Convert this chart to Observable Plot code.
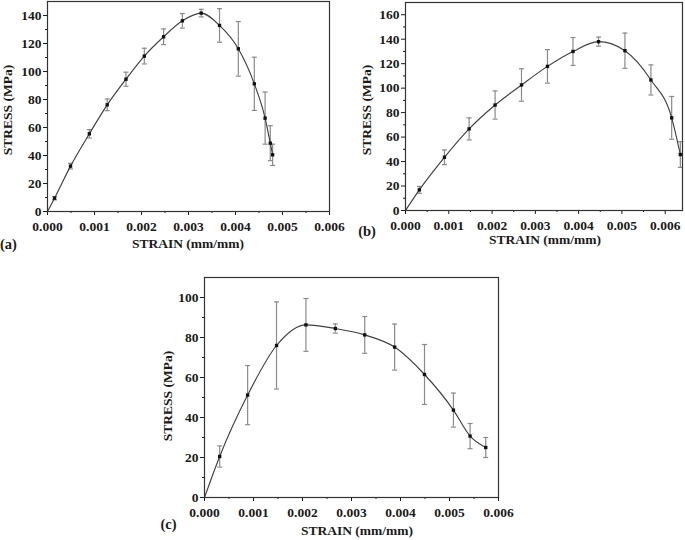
<!DOCTYPE html>
<html><head><meta charset="utf-8">
<script src="https://cdn.jsdelivr.net/npm/d3@7"></script>
<script src="https://cdn.jsdelivr.net/npm/@observablehq/plot@0.6"></script>
<style>
html,body{margin:0;padding:0;background:#fff;}
#wrap{position:relative;width:685px;height:540px;overflow:hidden;font-family:"Times New Roman","Liberation Serif",serif;font-weight:700;color:#1a1a1a;background:#fff;}
.p{position:absolute;}
.t{position:absolute;font-size:13.5px;white-space:nowrap;line-height:1;font-weight:700;}
.yt{transform:translate(-50%,-50%) rotate(-90deg);}
.xt{transform:translate(-50%,-50%);}
.lab{position:absolute;font-size:14.5px;line-height:1;white-space:nowrap;font-weight:700;transform:translate(-50%,-50%);}
svg text{font-weight:700;}
</style></head><body><div id="wrap"></div>
<script>
// Panel (a)
const aStrain = [0.00015, 0.00049, 0.00089, 0.00127, 0.00167, 0.00206, 0.00247, 0.00287, 0.00327, 0.00366, 0.00406, 0.00440, 0.00463, 0.00474, 0.00479];
const aStress = [9.5, 32.4, 55.5, 76.2, 94.5, 111.0, 124.8, 136.2, 141.7, 132.9, 116.2, 91.2, 66.7, 48.8, 40.5];
const aErr    = [1.2, 2.0, 3.0, 4.2, 5.0, 5.6, 5.6, 5.2, 2.7, 12.0, 19.5, 19.0, 18.6, 12.5, 7.6];
// Panel (b)
const bStrain = [0.00032, 0.00090, 0.00147, 0.00207, 0.00268, 0.00328, 0.00387, 0.00446, 0.00507, 0.00567, 0.00615, 0.00635];
const bStress = [16.9, 43.5, 66.7, 86.2, 102.6, 117.8, 130.0, 138.0, 130.6, 106.7, 75.7, 45.7];
const bErr    = [2.8, 6.0, 9.0, 11.5, 13.3, 13.7, 11.4, 3.7, 14.4, 12.3, 17.5, 10.5];
// Panel (c)
const cStrain = [0.00031, 0.00088, 0.00147, 0.00207, 0.00267, 0.00327, 0.00388, 0.00449, 0.00508, 0.00542, 0.00574];
const cStress = [20.5, 51.2, 76.0, 86.3, 84.5, 81.3, 75.2, 61.5, 43.7, 30.7, 25.0];
const cErr    = [5.3, 14.8, 21.8, 13.2, 2.3, 9.2, 11.5, 15.0, 8.5, 6.3, 5.0];

// Tick values
const xTicks = [0, 0.001, 0.002, 0.003, 0.004, 0.005, 0.006];
const xMinor = [0.0005, 0.0015, 0.0025, 0.0035, 0.0045, 0.0055];
const aYTicks = [0, 20, 40, 60, 80, 100, 120, 140];
const aYMinor = [10, 30, 50, 70, 90, 110, 130];
const bYTicks = [0, 20, 40, 60, 80, 100, 120, 140, 160];
const bYMinor = [10, 30, 50, 70, 90, 110, 130, 150];
const cYTicks = [0, 20, 40, 60, 80, 100];
const cYMinor = [10, 30, 50, 70, 90];

const xTitle = "STRAIN (mm/mm)";
const yTitle = "STRESS (MPa)";

const wrap = document.getElementById("wrap");
const cap = {draw(ctx) { ctx.moveTo(-2.5, 0); ctx.lineTo(2.5, 0); }};
const blank = () => "";

function panel(o) {
  const pts = o.strain.map((x, i) => ({x, y: o.stress[i], lo: o.stress[i] - o.err[i], hi: o.stress[i] + o.err[i]}));
  const lx = [0, ...o.strain], ly = [0, ...o.stress];
  const curve = lx.map((x, i) => ({x, y: ly[i]}));
  const chart = Plot.plot({
    width: o.width, height: o.height,
    marginLeft: o.ml, marginRight: o.mr, marginTop: o.mt, marginBottom: o.mb,
    x: {domain: [0, o.xMax], label: null},
    y: {domain: [0, o.yMax], label: null},
    style: {fontFamily: '"Times New Roman","Liberation Serif",serif', fontSize: "13.5px", fontWeight: "700", color: "#1a1a1a", background: "transparent", overflow: "visible"},
    marks: [
      Plot.axisX({ticks: xTicks, tickSize: 4, tickPadding: 6, tickFormat: d3.format(".3f"), label: null, fontWeight: 700}),
      Plot.axisX({ticks: xMinor, tickSize: 2, tickFormat: blank, label: null}),
      Plot.axisY({ticks: o.yTicks, tickSize: 4, tickPadding: 2, label: null, fontWeight: 700}),
      Plot.axisY({ticks: o.yMinor, tickSize: 2, tickFormat: blank, label: null}),
      Plot.ruleX(pts, {x: "x", y1: "lo", y2: "hi", stroke: "#8a8a8a", strokeWidth: 1.2}),
      Plot.dot(pts, {x: "x", y: "lo", symbol: cap, r: 3, stroke: "#8a8a8a", fill: "none", strokeWidth: 1.2}),
      Plot.dot(pts, {x: "x", y: "hi", symbol: cap, r: 3, stroke: "#8a8a8a", fill: "none", strokeWidth: 1.2}),
      Plot.line(curve, {x: "x", y: "y", curve: "monotone-x", stroke: "#404040", strokeWidth: 1.15}),
      Plot.dot(pts, {x: "x", y: "y", symbol: "square", r: 1.9, fill: "#111", stroke: "none"}),
      Plot.frame({stroke: "#333", strokeWidth: 1.2})
    ]
  });
  chart.classList.add("p");
  chart.style.left = o.left + "px";
  chart.style.top = o.top + "px";
  wrap.appendChild(chart);
}

function txt(cls, s, x, y) {
  const d = document.createElement("div");
  d.className = cls;
  d.textContent = s;
  d.style.left = x + "px";
  d.style.top = y + "px";
  wrap.appendChild(d);
}

panel({strain: aStrain, stress: aStress, err: aErr, xMax: 0.006, yMax: 150, yTicks: aYTicks, yMinor: aYMinor,
  left: 0, top: 0, width: 340, height: 250, ml: 47, mr: 11, mt: 1, mb: 39});
panel({strain: bStrain, stress: bStress, err: bErr, xMax: 0.0064, yMax: 170, yTicks: bYTicks, yMinor: bYMinor,
  left: 340, top: 0, width: 345, height: 250, ml: 65, mr: 3, mt: 2, mb: 40});
panel({strain: cStrain, stress: cStress, err: cErr, xMax: 0.006, yMax: 110, yTicks: cYTicks, yMinor: cYMinor,
  left: 160, top: 270, width: 345, height: 262, ml: 44, mr: 7, mt: 7, mb: 35});

txt("t yt", yTitle, 7.5, 110);
txt("t xt", xTitle, 188, 244);
txt("lab", "(a)", 8.5, 243.5);
txt("t yt", yTitle, 367, 110);
txt("t xt", xTitle, 545, 240);
txt("lab", "(b)", 367, 231);
txt("t yt", yTitle, 168, 396);
txt("t xt", xTitle, 357, 531);
txt("lab", "(c)", 168.5, 523.5);
</script></body></html>
